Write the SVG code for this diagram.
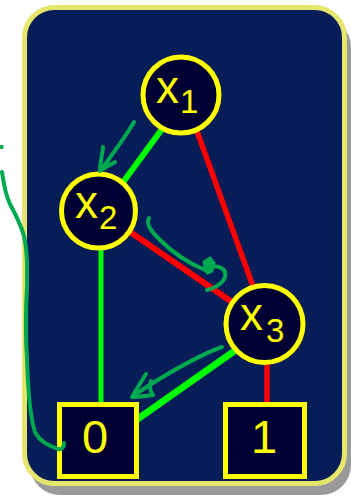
<svg xmlns="http://www.w3.org/2000/svg" width="351" height="497" viewBox="0 0 351 497">
<style>
.node circle{fill:#000033;stroke:#FFFF00;stroke-width:5}
.node rect{fill:#000033;stroke:#FFFF00;stroke-width:5}
.lbl{font-family:"Liberation Sans",Arial,sans-serif;fill:#FFFF00}
.v{font-size:46px}
.s{font-size:33px}
.t{font-size:47px}
.g{stroke:#00FF00;fill:none}
.r{stroke:#FF0000;fill:none}
.pen{stroke:#00A94F;stroke-width:4;fill:none;stroke-linecap:round;stroke-linejoin:round}
</style>
<rect x="30" y="17" width="321" height="478" rx="30" fill="#9a9a9a"/>
<rect x="24.5" y="7.5" width="320" height="476" rx="30" fill="#061D57" stroke="#E6E66C" stroke-width="5"/>
<g id="connectors">
<line class="g" x1="176" y1="110" x2="110" y2="200" stroke-width="6"/>
<line class="r" x1="190" y1="112" x2="258" y2="300" stroke-width="5.5"/>
<line class="r" x1="120" y1="225" x2="245" y2="311" stroke-width="6"/>
<line class="g" x1="101" y1="245" x2="101" y2="404" stroke-width="5"/>
<line class="g" x1="250" y1="340" x2="132" y2="423" stroke-width="7"/>
<line class="r" x1="267" y1="360" x2="267" y2="404" stroke-width="5.5"/>
</g>
<g id="n-x1" class="node">
<circle cx="181" cy="95" r="38"/>
<text class="lbl" x="156" y="103"><tspan class="v">x</tspan><tspan class="s" x="180" y="113">1</tspan></text>
</g>
<g id="n-x2" class="node">
<circle cx="98.5" cy="211" r="37"/>
<text class="lbl" x="75" y="218"><tspan class="v">x</tspan><tspan class="s" x="99" y="229">2</tspan></text>
</g>
<g id="n-x3" class="node">
<circle cx="264.5" cy="324" r="38.5"/>
<text class="lbl" x="240" y="330"><tspan class="v">x</tspan><tspan class="s" x="266" y="342">3</tspan></text>
</g>
<g id="n-0" class="node">
<rect x="59.5" y="404.5" width="77" height="72"/>
<text class="lbl t" x="95" y="453" text-anchor="middle">0</text>
</g>
<g id="n-1" class="node">
<rect x="225.5" y="404.5" width="79" height="72"/>
<text class="lbl t" x="264" y="453" text-anchor="middle">1</text>
</g>
<g id="annotations">
<circle cx="1.5" cy="147" r="2.2" fill="#00A94F"/>
<path class="pen" d="M2,172 C4,186 6,196 10,204 C14,212 20,222 24,236 C28,252 27,266 27,285 C26,305 25,330 27,360 C28,390 31,420 35,432 C40,442 50,446 58,449 C62,450 64,447 64,443"/>
<path class="pen" d="M134,122 C126,136 114,152 101,170 M103,147 C102,156 100,164 100,171 C104,168 110,165 115,162"/>
<path class="pen" d="M149,218 C146,224 150,230 160,240 C172,252 186,262 205,270"/>
<path d="M204,262 L210,258 L214,263 L212,271 L207,273 Z" fill="#00A94F" stroke="#00A94F" stroke-width="3" stroke-linejoin="round"/>
<path class="pen" d="M208,267 C218,265 227,268 225,277 C222,285 212,289 207,290"/>
<path class="pen" d="M222,347 C205,353 180,366 148,386 C142,390 136,394 132,397 M146,374 C141,382 136,390 132,397 C138,397 146,396 153,395 C150,391 149,386 151,381"/>
</g>
</svg>
